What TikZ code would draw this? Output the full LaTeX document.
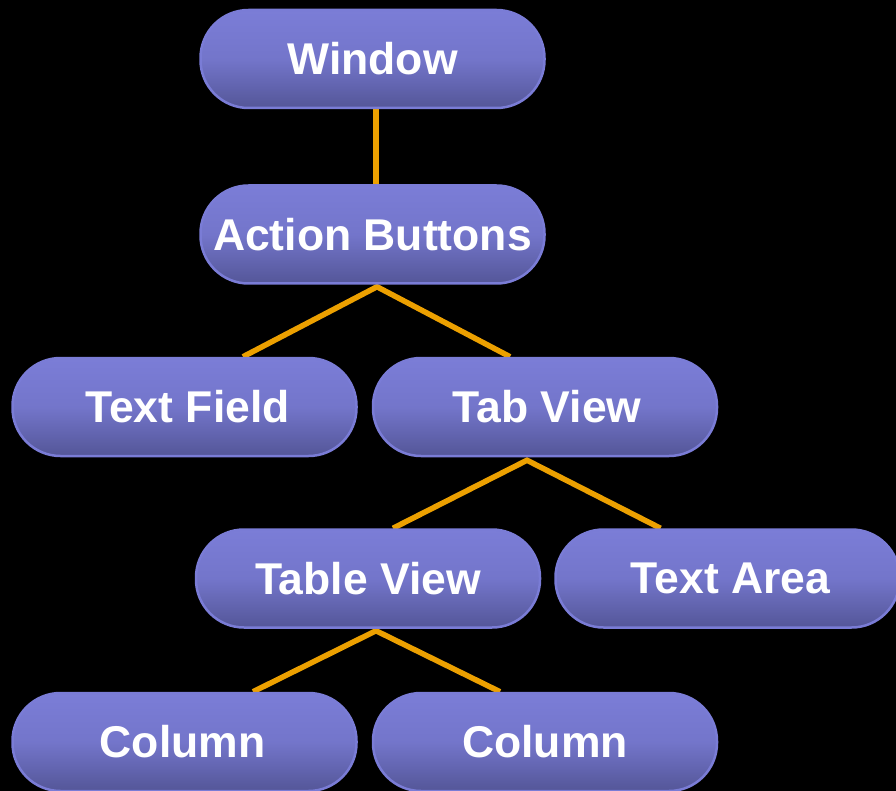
\documentclass[tikz,border=0pt]{standalone}
\usepackage{fontspec}
\setmainfont{Liberation Sans}
\usetikzlibrary{backgrounds}
\definecolor{pilltop}{RGB}{123,125,215}
\definecolor{pillbot}{RGB}{84,86,152}
\definecolor{pillrim}{RGB}{122,124,214}
\definecolor{linkorange}{RGB}{236,160,0}
\tikzset{
  pill/.style={draw=pillrim, line width=2.5pt, rounded corners=48pt,
    top color=pilltop, bottom color=pillbot, middle color=pilltop!80!pillbot,
    minimum width=344pt, minimum height=98pt, inner sep=0pt,
    text=white, font=\bfseries\fontsize{44.5pt}{50pt}\selectfont},
  link/.style={draw=linkorange, line width=5.5pt, line join=miter}
}
\begin{document}
\begin{tikzpicture}[x=1pt,y=-1pt]
\useasboundingbox (0,0) rectangle (896,791);
\clip (0,0) rectangle (896,791);
\node[pill] (win) at (372.5,59) {Window};
\node[pill] (ab) at (372.5,234.5) {Action Buttons};
\node[pill] (tf) at (184.5,407) {\hspace*{6pt}Text Field};
\node[pill] (tv) at (545,407) {\hspace*{4pt}Tab View};
\node[pill] (tbv) at (368,578.5) {Table View};
\node[pill] (ta) at (727.5,578.5) {\hspace*{6pt}Text Area};
\node[pill] (c1) at (184.5,742) {Column\hspace*{4pt}};
\node[pill] (c2) at (545,742) {Column};
\begin{scope}[on background layer]
\fill[black] (0,0) rectangle (896,791);
\draw[link] ([xshift=3.5pt]win.south) -- ([xshift=3.5pt]ab.north);
\draw[link] ([xshift=58.5pt]tf.north) -- ([xshift=4.5pt,yshift=-2pt]ab.south) -- ([xshift=-35pt]tv.north);
\draw[link] ([xshift=25pt]tbv.north) -- ([xshift=-18pt,yshift=-3pt]tv.south) -- ([xshift=-67pt]ta.north);
\draw[link] ([xshift=68.5pt]c1.north) -- ([xshift=8pt,yshift=-2pt]tbv.south) -- ([xshift=-45pt]c2.north);
\end{scope}
\end{tikzpicture}
\end{document}
